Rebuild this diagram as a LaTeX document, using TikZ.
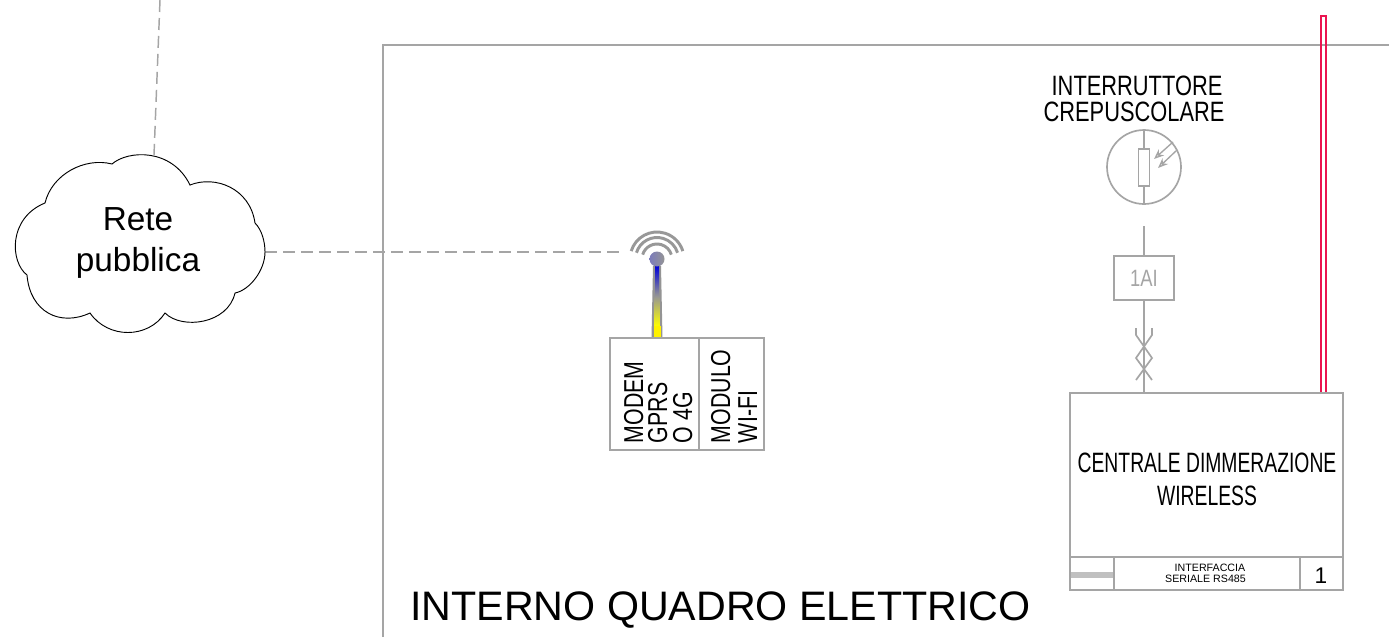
\documentclass[tikz,border=0pt]{standalone}
\usepackage{fontspec}
\setmainfont{Liberation Sans}
\newfontfamily\narrowf[FakeStretch=0.78]{Liberation Sans}
\newfontfamily\narrowc[FakeStretch=0.69]{Liberation Sans}
\usetikzlibrary{arrows.meta,calc}
\definecolor{linegray}{RGB}{165,165,165}
\definecolor{bandgray}{RGB}{192,192,192}
\definecolor{crimsonline}{RGB}{235,20,80}
\tikzset{
  x=0.75pt,y=-0.75pt,
  wire/.style={draw=linegray,line width=1.35pt},
  thinwire/.style={draw=linegray,line width=1.25pt},
  dashwire/.style={draw=linegray,line width=1.1pt,dash pattern=on 9pt off 4.5pt},
  vlab/.style={inner sep=0pt,outer sep=0pt,text=black,font=\narrowf\fontsize{20.5}{23}\selectfont,rotate=90,anchor=base west},
  box/.style={wire,fill=white,inner sep=0pt,outer sep=0pt,anchor=north west},
}
\begin{document}
\begin{tikzpicture}
\useasboundingbox[fill=white] (0,0) rectangle (1389,637);
% frame
\coordinate (frameB) at (383,637);
\coordinate (frameC) at (383,45);
\coordinate (frameR) at (1389,45);
\draw[wire] (frameB) -- (frameC) -- (frameR);
% cloud
\coordinate (cloudN) at (154,155);
\coordinate (cloudE) at (265,252);
\coordinate (topEnd) at (160,0);
\coordinate (antEnd) at (620,252);
\draw[dashwire] (topEnd) -- (cloudN);
\draw[dashwire] (cloudE) -- (antEnd);
\draw[black,line width=0.7pt,fill=white] (45,203)
  .. controls (52,174) and (85,157) .. (112,164)
  .. controls (128,150) and (172,148) .. (190,185)
  .. controls (215,175) and (250,188) .. (255,223)
  .. controls (262,230) and (265,242) .. (265,252)
  .. controls (265,270) and (250,290) .. (235,293)
  .. controls (228,324) and (182,330) .. (165,313)
  .. controls (148,339) and (108,339) .. (90,313)
  .. controls (60,327) and (30,312) .. (27,275)
  .. controls (10,262) and (8,218) .. (45,203) -- cycle;
\node[inner sep=0pt,font=\fontsize{25}{31}\selectfont,anchor=base] (rete) at (138,230) {Rete};
\node[inner sep=0pt,font=\fontsize{25}{31}\selectfont,anchor=base] (pubblica) at (138,271) {pubblica};
% antenna
\coordinate (antTop) at (657,259);
\coordinate (antBase) at (657,338);
\fill[linegray!90!black] (653,266) -- (661,266) -- (662.5,338) -- (651.5,338) -- cycle;
\shade[top color=blue!85!black,bottom color=linegray!90!black] (655,266) rectangle (659,296);
\shade[top color=linegray!90!black,bottom color=yellow] (654.5,296) rectangle (659.5,326);
\fill[yellow] (653.5,326) rectangle (660.5,338);
\shade[left color=linegray!75!blue,right color=linegray!90!black] (antTop) circle[radius=7.5];
\foreach \r in {15,21.5,27}{
  \draw[draw=linegray!92!black,line width=2.2pt] ($(antTop)+(-163:\r)$) arc[start angle=-163,end angle=-17,radius=\r];
}
% modem box
\node[box,minimum width=154*0.75pt,minimum height=112*0.75pt] (modem) at (610,338) {};
\coordinate (modemDivT) at (699,338);
\coordinate (modemDivB) at (699,450);
\draw[wire] (modemDivT) -- (modemDivB);
\node[vlab] (m1) at (643,443) {MODEM};
\node[vlab] (m2) at (667,443) {GPRS};
\node[vlab] (m3) at (692,443) {O 4G};
\node[vlab] (m4) at (730,443) {MODULO};
\node[vlab] (m5) at (757,443) {WI-FI};
% red cable
\coordinate (redTL) at (1321,16);
\coordinate (redTR) at (1326,16);
\coordinate (redBL) at (1321,393);
\coordinate (redBR) at (1326,393);
\draw[draw=crimsonline,line width=1.3pt] (redBL) -- (redTL) -- (redTR) -- (redBR);
% sensor
\node[inner sep=0pt,font=\narrowf\fontsize{21}{23}\selectfont,anchor=base] (t1) at (1137,95) {INTERRUTTORE};
\node[inner sep=0pt,font=\narrowf\fontsize{21}{23}\selectfont,anchor=base] (t2) at (1134,121) {CREPUSCOLARE};
\node[circle,thinwire,minimum size=74*0.75pt,inner sep=0pt,outer sep=0pt] (sensor) at (1144,167) {};
\node[thinwire,fill=white,minimum width=11*0.75pt,minimum height=37*0.75pt,inner sep=0pt,outer sep=0pt] (resistor) at (1144,167.5) {};
\draw[thinwire] (sensor.north) -- (resistor.north);
\draw[thinwire] (resistor.south) -- (sensor.south);
\coordinate (a1s) at (1173,142);
\coordinate (a1e) at (1154,159);
\coordinate (a2s) at (1177,150);
\coordinate (a2e) at (1158,168);
\draw[draw=linegray,line width=1pt,-{Stealth[open,length=7.5pt,width=6pt]}] (a1s) -- (a1e);
\draw[draw=linegray,line width=1pt,-{Stealth[open,length=7.5pt,width=6pt]}] (a2s) -- (a2e);
% 1AI
\coordinate (aiIn) at (1144,226);
\node[box,anchor=center,minimum width=60*0.75pt,minimum height=44*0.75pt,text=linegray,font=\narrowf\fontsize{17.7}{19}\selectfont] (ai) at (1144,278) {1AI};
\draw[wire] (aiIn) -- (ai.north);
% central unit
\node[box,minimum width=273*0.75pt,minimum height=197*0.75pt] (central) at (1070,393) {};
\draw[wire] (ai.south) -- (1144,393);
% twisted pair
\coordinate (twA) at (1136,328);
\coordinate (twB) at (1136,335);
\coordinate (twC) at (1152,358);
\coordinate (twD) at (1136,380);
\coordinate (twE) at (1152,328);
\coordinate (twF) at (1152,335);
\coordinate (twG) at (1136,358);
\coordinate (twH) at (1152,380);
\draw[thinwire] (twA) -- (twB) -- (twC) -- (twD);
\draw[thinwire] (twE) -- (twF) -- (twG) -- (twH);
\node[inner sep=0pt,font=\narrowc\fontsize{21}{23}\selectfont,anchor=base] (c1) at (1207,472) {CENTRALE DIMMERAZIONE};
\node[inner sep=0pt,font=\narrowc\fontsize{21}{23}\selectfont,anchor=base] (c2) at (1207,505) {WIRELESS};
% footer
\coordinate (fL) at (1070,557);
\coordinate (fR) at (1343,557);
\coordinate (v1T) at (1114,557);
\coordinate (v1B) at (1114,590);
\coordinate (v2T) at (1300,557);
\coordinate (v2B) at (1300,590);
\draw[wire] (fL) -- (fR);
\draw[wire] (v1T) -- (v1B);
\draw[wire] (v2T) -- (v2B);
\fill[bandgray] (1071,571.5) rectangle (1113,578);
\node[inner sep=0pt,font=\fontsize{8}{9}\selectfont,anchor=base] (i1) at (1210,571) {INTERFACCIA};
\node[inner sep=0pt,font=\fontsize{8}{9}\selectfont,anchor=base] (i2) at (1205.5,582) {SERIALE RS485};
\node[inner sep=0pt,font=\fontsize{17}{18}\selectfont,anchor=base] (one) at (1321,583) {1};
% title
\node[inner sep=0pt,font=\fontsize{30.9}{33}\selectfont,anchor=base west] (title) at (410,620) {INTERNO QUADRO ELETTRICO};
\end{tikzpicture}
\end{document}
